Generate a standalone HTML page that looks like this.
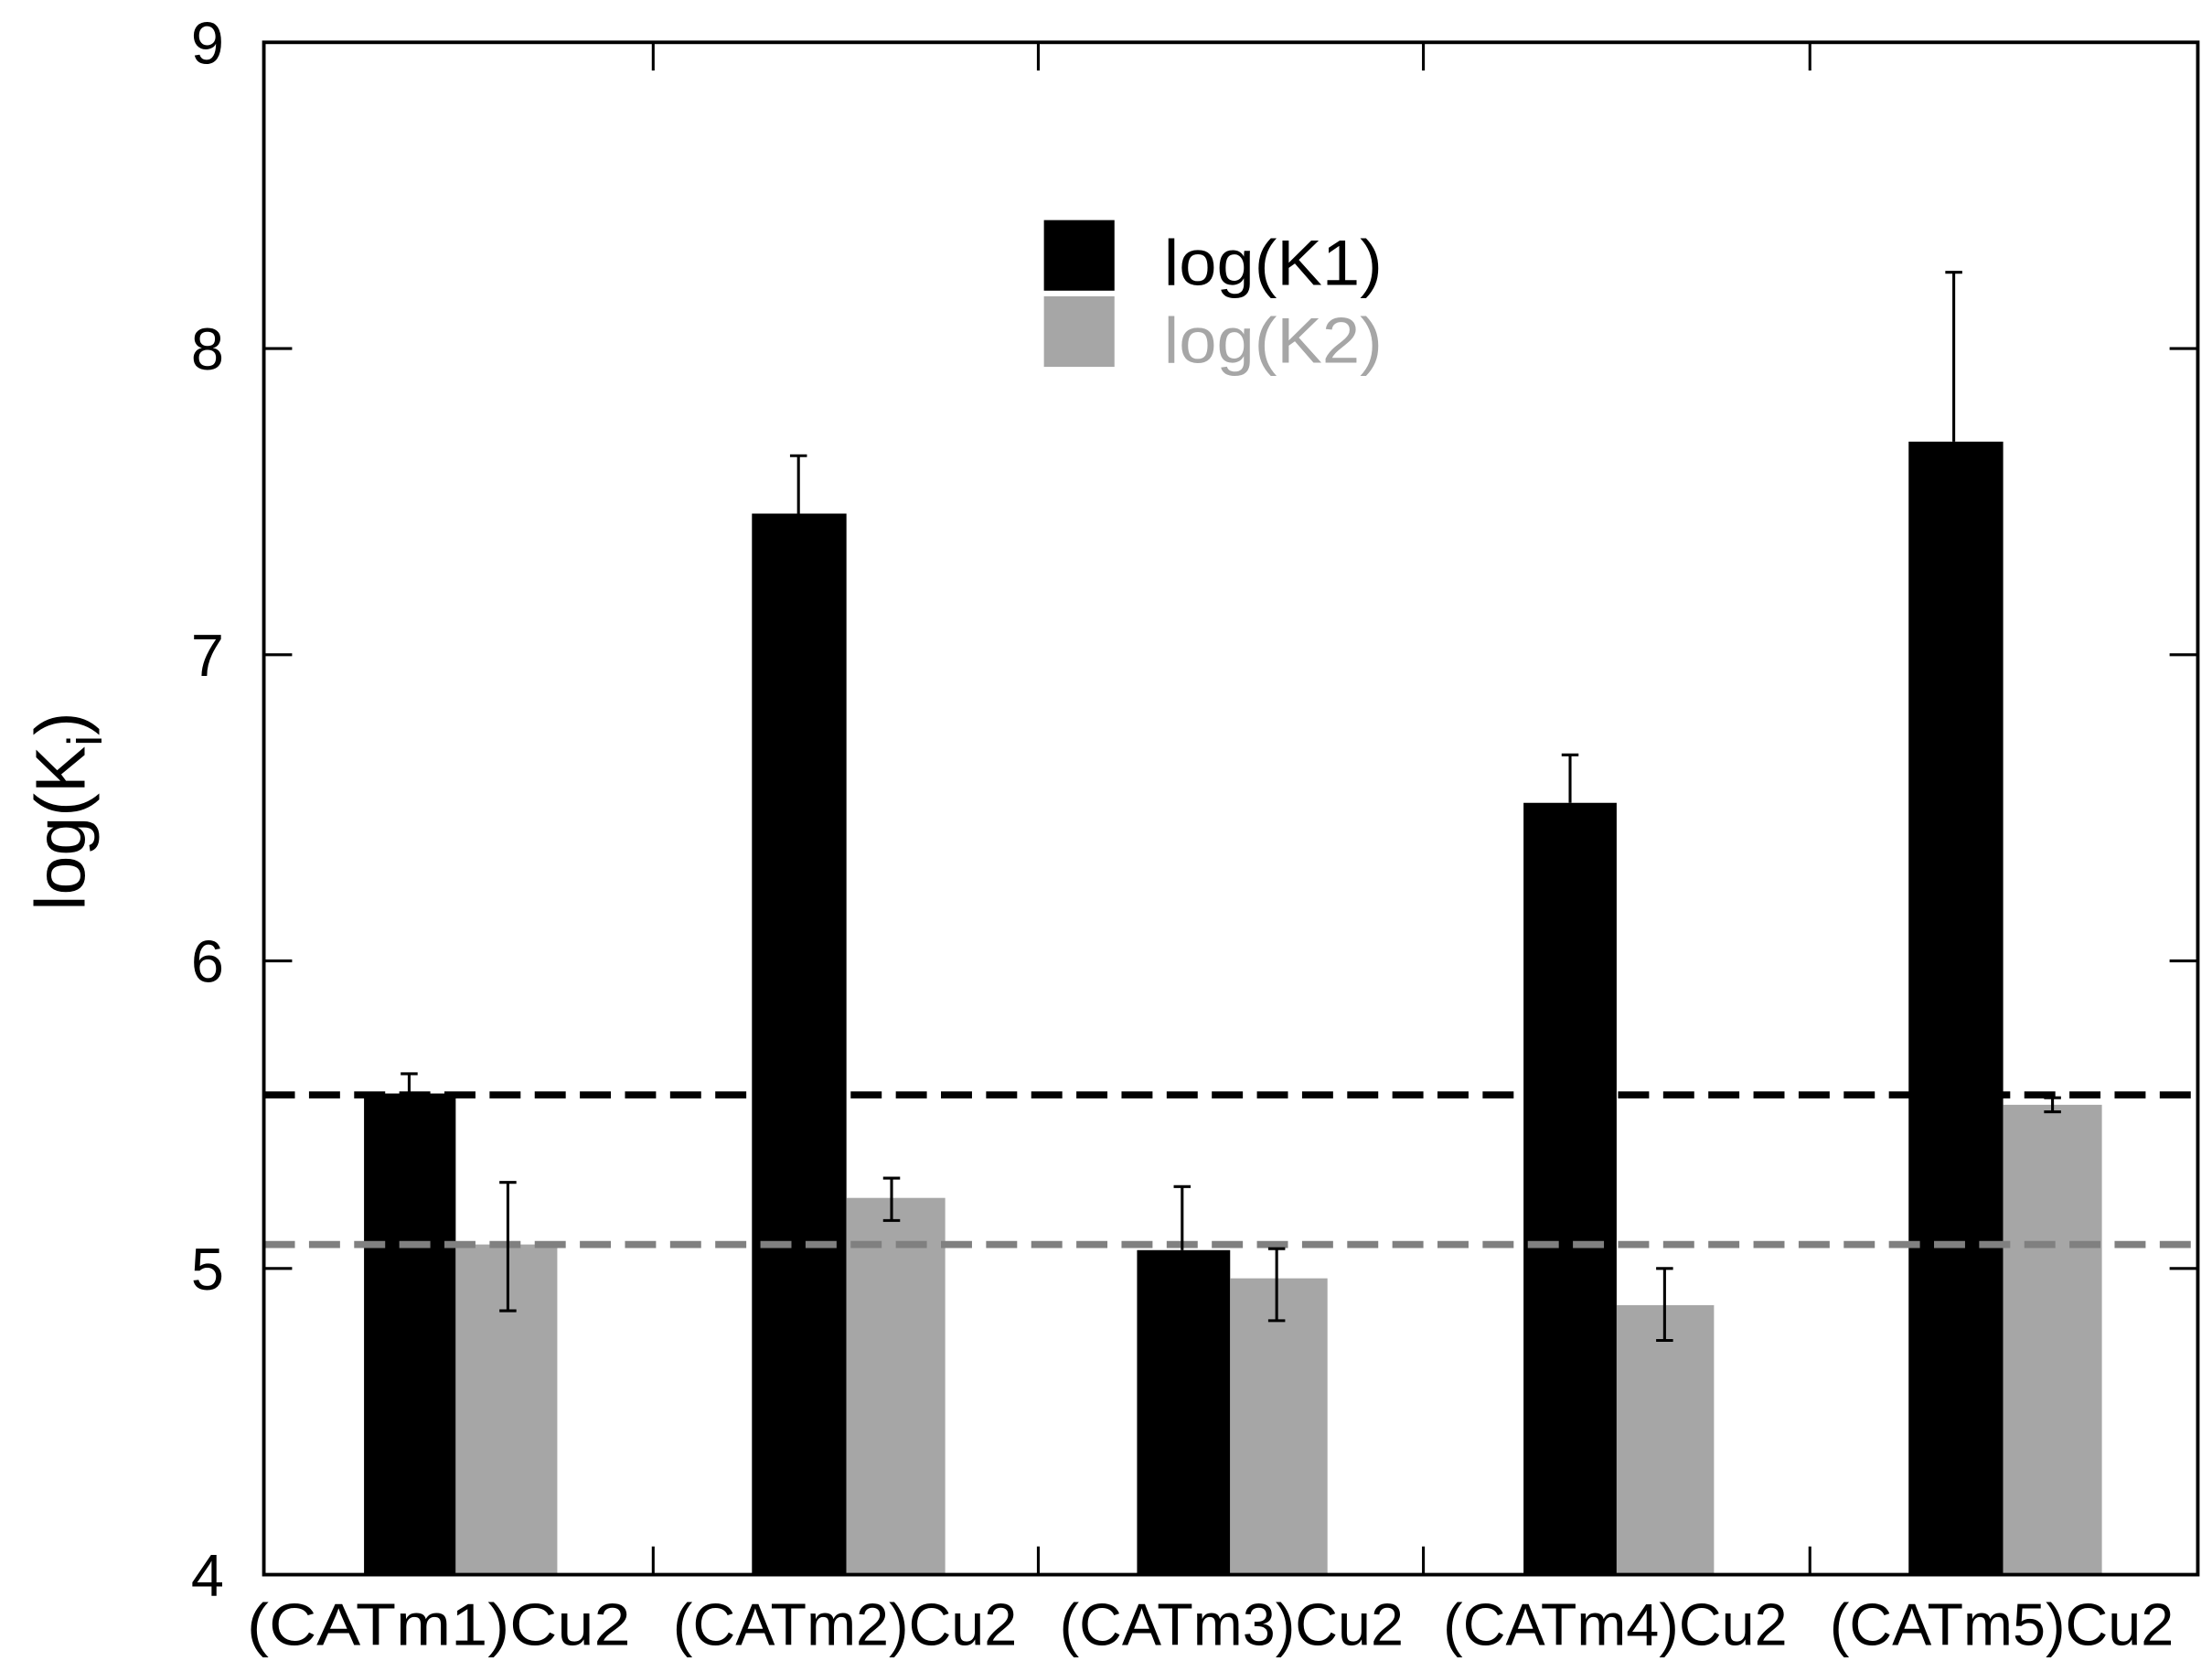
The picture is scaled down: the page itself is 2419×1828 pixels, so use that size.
<!DOCTYPE html>
<html><head><style>html,body{margin:0;padding:0;background:#fff}svg{display:block}</style></head>
<body>
<svg width="2419" height="1828" viewBox="0 0 1568 1185" xmlns="http://www.w3.org/2000/svg" font-family="Liberation Sans, Arial, sans-serif">
<rect width="1568" height="1185" fill="#fff"/>
<g fill="#000">
<rect x="258" y="775" width="65" height="341"/>
<rect x="533" y="364" width="67" height="752"/>
<rect x="806" y="886" width="66" height="230"/>
<rect x="1080" y="569" width="66" height="547"/>
<rect x="1353" y="313" width="67" height="803"/>
</g>
<g fill="#a6a6a6">
<rect x="323" y="882" width="72" height="234"/>
<rect x="600" y="849" width="70" height="267"/>
<rect x="872" y="906" width="69" height="210"/>
<rect x="1146" y="925" width="69" height="191"/>
<rect x="1420" y="783" width="70" height="333"/>
</g>
<line x1="187" y1="776" x2="1558" y2="776" stroke="#000" stroke-width="5" stroke-dasharray="22,10"/>
<line x1="187" y1="882" x2="1558" y2="882" stroke="#808080" stroke-width="5" stroke-dasharray="22,10"/>
<g stroke="#000" stroke-width="2" fill="none">
<path d="M290 761V775M284 761H296"/>
<path d="M566 323V364M560 323H572"/>
<path d="M838 841V886M832 841H844"/>
<path d="M1113 535V569M1107 535H1119"/>
<path d="M1385 193V313M1379 193H1391"/>
<path d="M360 838V929M354 838H366M354 929H366"/>
<path d="M632 835V865M626 835H638M626 865H638"/>
<path d="M905 885V936M899 885H911M899 936H911"/>
<path d="M1180 899V950M1174 899H1186M1174 950H1186"/>
<path d="M1455 778V788M1449 778H1461M1449 788H1461"/>
</g>
<rect x="187" y="30" width="1371" height="1086" fill="none" stroke="#000" stroke-width="2.5"/>
<g stroke="#000" stroke-width="2">
<path d="M187 247H207M187 464H207M187 681H207M187 899H207"/>
<path d="M1558 247H1538M1558 464H1538M1558 681H1538M1558 899H1538"/>
<path d="M463 1116V1096M736 1116V1096M1009 1116V1096M1283 1116V1096"/>
<path d="M463 30V50M736 30V50M1009 30V50M1283 30V50"/>
</g>
<g font-size="42" text-anchor="middle" fill="#000">
<text x="147" y="45">9</text>
<text x="147" y="262">8</text>
<text x="147" y="479">7</text>
<text x="147" y="696">6</text>
<text x="147" y="914">5</text>
<text x="147" y="1131">4</text>
</g>
<g font-size="42" text-anchor="middle" fill="#000">
<text x="311" y="1166" textLength="272" lengthAdjust="spacingAndGlyphs">(CATm1)Cu2</text>
<text x="599" y="1166" textLength="244" lengthAdjust="spacingAndGlyphs">(CATm2)Cu2</text>
<text x="873" y="1166" textLength="244" lengthAdjust="spacingAndGlyphs">(CATm3)Cu2</text>
<text x="1145" y="1166" textLength="244" lengthAdjust="spacingAndGlyphs">(CATm4)Cu2</text>
<text x="1419" y="1166" textLength="244" lengthAdjust="spacingAndGlyphs">(CATm5)Cu2</text>
</g>
<text transform="translate(60,575) rotate(-90)" font-size="50" text-anchor="middle">log(K<tspan font-size="34" dy="12">i</tspan><tspan dy="-12">)</tspan></text>
<rect x="740" y="156" width="50" height="50" fill="#000"/>
<rect x="740" y="210" width="50" height="50" fill="#a6a6a6"/>
<text x="825" y="202" font-size="46" fill="#000" textLength="155" lengthAdjust="spacingAndGlyphs">log(K1)</text>
<text x="825" y="257" font-size="46" fill="#a6a6a6" textLength="155" lengthAdjust="spacingAndGlyphs">log(K2)</text>
</svg>
</body></html>
